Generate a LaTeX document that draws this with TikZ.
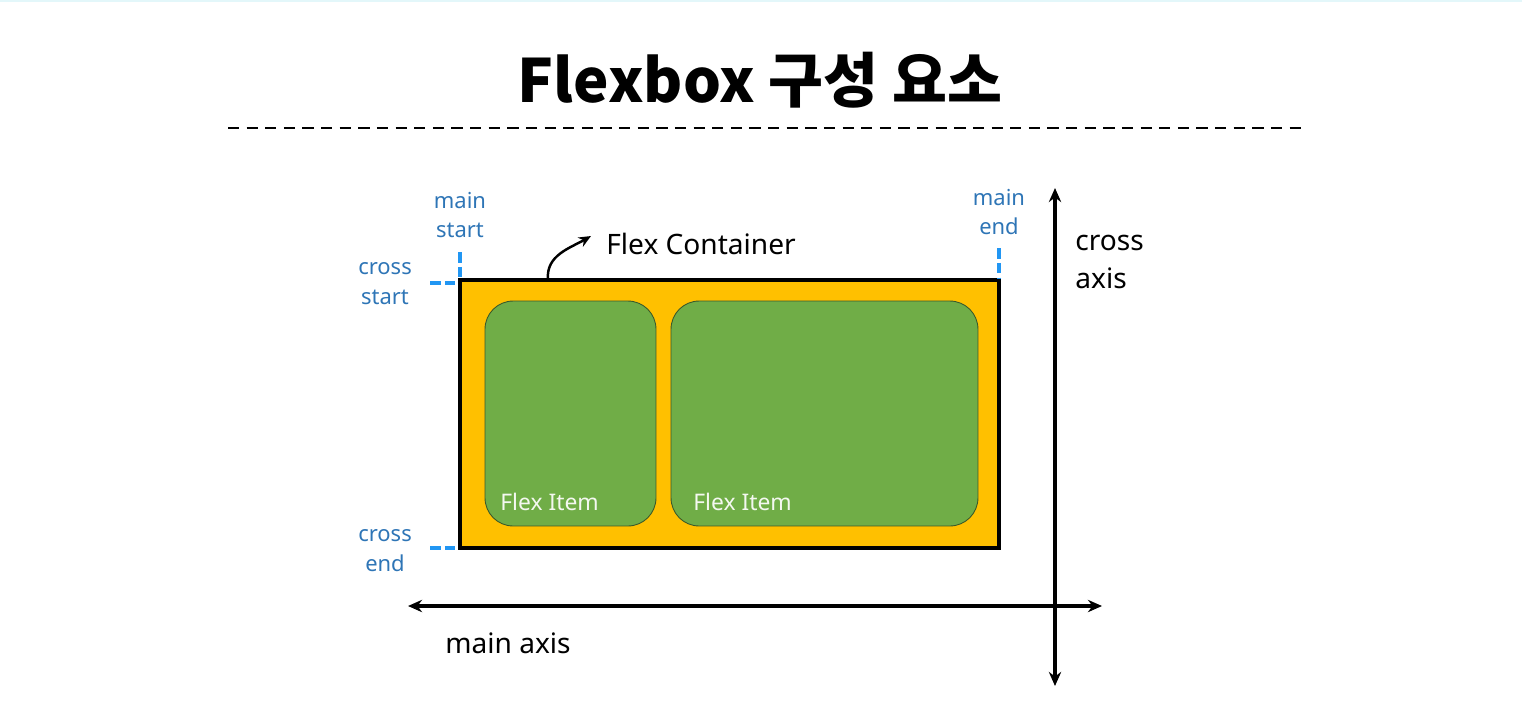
\documentclass[tikz,border=0pt]{standalone}
\usepackage{fontspec}
\setmainfont{Noto Sans}
\newfontfamily\krfont{Noto Sans CJK KR}
\usetikzlibrary{arrows.meta}
\definecolor{boxorange}{HTML}{FFC000}
\definecolor{itemgreen}{HTML}{70AD47}
\definecolor{itemedge}{HTML}{3B5A2A}
\definecolor{labelblue}{HTML}{2E75B6}
\definecolor{tickblue}{HTML}{2196F3}
\definecolor{topcyan}{HTML}{E3F7FA}
\tikzset{
    titletxt/.style={font=\krfont\bfseries\fontsize{34}{40}\selectfont},
    rule/.style={black, line width=1.3pt, dash pattern=on 6.4pt off 4.2pt},
    container/.style={draw=black, fill=boxorange, line width=2pt,
        minimum width=10.78cm, minimum height=5.36cm, inner sep=0pt},
    flexitem/.style={draw=itemedge, fill=itemgreen, line width=0.5pt,
        rounded corners=16pt, minimum height=4.5cm, inner sep=0pt},
    itemtxt/.style={text=white!92!itemgreen, font=\fontsize{13}{15}\selectfont, anchor=west, inner sep=0pt},
    bluetxt/.style={text=labelblue, font=\fontsize{12.5}{17}\selectfont, align=center, inner sep=0pt},
    blacktxt/.style={text=black, font=\fontsize{16}{21.5}\selectfont, inner sep=0pt},
    tick/.style={tickblue, line width=2.1pt, dash pattern=on 6pt off 2.4pt},
    axis/.style={black, line width=1.9pt, {Stealth[length=8pt,width=7pt]}-{Stealth[length=8pt,width=7pt]}},
}
\begin{document}
\begin{tikzpicture}[x=0.02cm, y=-0.02cm]
    \useasboundingbox (0,0) rectangle (1522,701);
    \draw[topcyan, line width=1pt] (0,1) -- (1522,1);
    \node[titletxt] (title) at (760,80) {Flexbox 구성 요소};
    \draw[rule] (228,128) -- (1306,128);

    % container and items
    \node[container] (box) at (729.5,414) {};
    \node[flexitem, minimum width=3.42cm] (itemA) at (570.5,413.5) {};
    \node[flexitem, minimum width=6.14cm] (itemB) at (824.5,413.5) {};
    \node[itemtxt] (itemAtxt) at (500,502) {Flex Item};
    \node[itemtxt] (itemBtxt) at (693,502) {Flex Item};

    \node[blacktxt, anchor=west] (fclabel) at (606,244) {Flex Container};
    \coordinate (fcfoot) at (548,279);
    \coordinate (fctip) at (591,236);
    \draw[-{Stealth[length=7pt,width=6pt]}, line width=1.4pt] (fcfoot) to[out=95,in=210] (fctip);

    % start / end marks
    \node[bluetxt] (mstart) at (460,215) {main\\start};
    \node[bluetxt] (mend) at (999,212) {main\\end};
    \node[bluetxt] (cstart) at (385,284) {cross\\start};
    \node[bluetxt] (cend) at (385,551) {cross\\end};
    \coordinate (mstartmark) at (460,252);
    \coordinate (mendmark) at (999,248);
    \coordinate (cstartmark) at (430,283);
    \coordinate (cendmark) at (430,548);
    \draw[tick] (mstartmark) -- (mstartmark |- box.north);
    \draw[tick] (mendmark) -- (mendmark |- box.north);
    \draw[tick] (cstartmark) -- (cstartmark -| box.west);
    \draw[tick] (cendmark) -- (cendmark -| box.west);

    % axes
    \coordinate (mleft) at (408,606);
    \coordinate (mright) at (1102,606);
    \coordinate (ctop) at (1055,188);
    \coordinate (cbot) at (1055,686);
    \draw[axis] (mleft) -- (mright);
    \draw[axis] (cbot) -- (ctop);
    \node[blacktxt, anchor=west] (maxis) at (445,643) {main axis};
    \node[blacktxt, anchor=west, align=left] (caxis) at (1075,262) {cross\\axis};
\end{tikzpicture}
\end{document}
